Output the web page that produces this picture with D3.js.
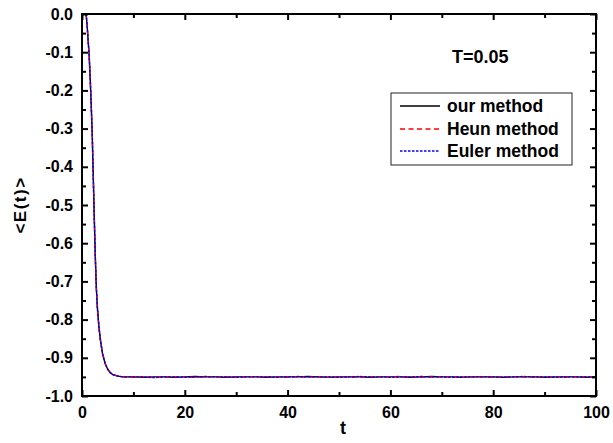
<!DOCTYPE html>
<html>
<head>
<meta charset="utf-8">
<script src="https://cdn.jsdelivr.net/npm/d3@7"></script>
<style>
  html, body { margin: 0; padding: 0; background: #fff; }
  svg { display: block; }
  text { font-family: "Liberation Sans", Arial, sans-serif; font-weight: bold; fill: #000; }
</style>
</head>
<body>
<svg id="chart" width="613" height="443"></svg>
<script>
// ---------- data ----------
const times = [0.8, 1.0, 1.2, 1.4, 1.6, 1.8, 2.0, 2.2, 2.4, 2.6, 2.8, 3.0, 3.3, 3.6, 4.0, 4.5, 5.0, 5.5, 6.0, 7.0, 8.0,
  10, 12, 14, 16, 18, 20, 22, 24, 26, 28, 30, 32, 34, 36, 38, 40, 42, 44, 46, 48, 50,
  52, 54, 56, 58, 60, 62, 64, 66, 68, 70, 72, 74, 76, 78, 80, 82, 84, 86, 88, 90, 92, 94, 96, 98, 100];
const ourMethod = [0, -0.03, -0.07, -0.11, -0.17, -0.24, -0.32, -0.43, -0.54, -0.64, -0.72, -0.77, -0.82, -0.855, -0.89, -0.915, -0.93, -0.939, -0.944, -0.948, -0.950,
  -0.950, -0.951, -0.950, -0.950, -0.951, -0.950, -0.949, -0.950, -0.950, -0.951, -0.950, -0.950, -0.950, -0.951, -0.950, -0.950, -0.950, -0.949, -0.950, -0.951, -0.950,
  -0.950, -0.950, -0.951, -0.950, -0.950, -0.950, -0.951, -0.950, -0.949, -0.950, -0.950, -0.951, -0.950, -0.950, -0.950, -0.951, -0.950, -0.950, -0.950, -0.951, -0.950, -0.950, -0.950, -0.951, -0.950];
const heunMethod = [0, -0.03, -0.07, -0.11, -0.17, -0.24, -0.32, -0.43, -0.54, -0.64, -0.72, -0.77, -0.82, -0.855, -0.89, -0.915, -0.93, -0.939, -0.944, -0.948, -0.950,
  -0.951, -0.950, -0.950, -0.951, -0.950, -0.950, -0.951, -0.950, -0.950, -0.950, -0.951, -0.950, -0.949, -0.950, -0.950, -0.951, -0.950, -0.950, -0.950, -0.951, -0.950,
  -0.950, -0.951, -0.950, -0.950, -0.950, -0.949, -0.950, -0.951, -0.950, -0.950, -0.950, -0.951, -0.950, -0.950, -0.951, -0.950, -0.950, -0.950, -0.951, -0.950, -0.950, -0.951, -0.950, -0.950, -0.950];
const eulerMethod = [0, -0.03, -0.07, -0.11, -0.17, -0.24, -0.32, -0.43, -0.54, -0.64, -0.72, -0.77, -0.82, -0.855, -0.89, -0.915, -0.93, -0.939, -0.944, -0.948, -0.950,
  -0.950, -0.950, -0.952, -0.950, -0.950, -0.951, -0.950, -0.949, -0.950, -0.950, -0.951, -0.950, -0.950, -0.950, -0.951, -0.950, -0.949, -0.950, -0.950, -0.950, -0.951,
  -0.950, -0.949, -0.950, -0.950, -0.951, -0.950, -0.950, -0.949, -0.950, -0.950, -0.951, -0.950, -0.950, -0.950, -0.950, -0.951, -0.950, -0.949, -0.950, -0.950, -0.951, -0.950, -0.950, -0.950, -0.950];
const seriesNames = ["our method", "Heun method", "Euler method"];
const xTicks = [0, 20, 40, 60, 80, 100];
const yTicks = [0.0, -0.1, -0.2, -0.3, -0.4, -0.5, -0.6, -0.7, -0.8, -0.9, -1.0];
const annotation = "T=0.05";

// ---------- layout ----------
const svg = d3.select("#chart");
const L = 82, R = 596, T = 14, B = 396;
const x = d3.scaleLinear().domain([0, 100]).range([L, R]);
const y = d3.scaleLinear().domain([-1.0, 0.0]).range([B, T]);

const styles = [
  { color: "#000000", dash: null },
  { color: "#ff0000", dash: "5,3.5" },
  { color: "#0000ff", dash: "2.5,1.5" }
];
const values = [ourMethod, heunMethod, eulerMethod];

const line = d3.line().x(d => x(d[0])).y(d => y(d[1]));
values.forEach((vals, i) => {
  svg.append("path")
    .datum(times.map((t, k) => [t, vals[k]]))
    .attr("d", line)
    .attr("fill", "none")
    .attr("stroke", styles[i].color)
    .attr("stroke-width", 1.4)
    .attr("stroke-dasharray", styles[i].dash);
});

// ---------- axes ----------
const xMinor = d3.range(10, 100, 20);
const yMinor = d3.range(-0.95, 0, 0.1);
function tickGroup(axisGen, transform) {
  const g = svg.append("g").attr("transform", transform).call(axisGen);
  g.select(".domain").remove();
  g.selectAll("line").attr("stroke", "#000").attr("stroke-width", 2);
  return g;
}
// bottom
const gb = tickGroup(d3.axisBottom(x).tickValues(xTicks).tickSize(-6).tickFormat(d3.format("d")), `translate(0,${B})`);
gb.selectAll("text").attr("y", 11).attr("font-size", 16).style("font-family", "Liberation Sans, Arial, sans-serif").style("font-weight", "bold");
tickGroup(d3.axisBottom(x).tickValues(xMinor).tickSize(-4).tickFormat(""), `translate(0,${B})`);
// top
tickGroup(d3.axisTop(x).tickValues(xTicks).tickSize(-6).tickFormat(""), `translate(0,${T})`);
tickGroup(d3.axisTop(x).tickValues(xMinor).tickSize(-4).tickFormat(""), `translate(0,${T})`);
// left
const gl = tickGroup(d3.axisLeft(y).tickValues(yTicks).tickSize(-6).tickFormat(d3.format(".1f")), `translate(${L},0)`);
gl.selectAll("text").attr("x", -9).attr("font-size", 16).style("font-family", "Liberation Sans, Arial, sans-serif").style("font-weight", "bold")
  .text(d => d3.format(".1f")(d).replace("−", "-"));
tickGroup(d3.axisLeft(y).tickValues(yMinor).tickSize(-4).tickFormat(""), `translate(${L},0)`);
// right
tickGroup(d3.axisRight(y).tickValues(yTicks).tickSize(-6).tickFormat(""), `translate(${R},0)`);
tickGroup(d3.axisRight(y).tickValues(yMinor).tickSize(-4).tickFormat(""), `translate(${R},0)`);

// frame
svg.append("rect").attr("x", L).attr("y", T).attr("width", R - L).attr("height", B - T)
  .attr("fill", "none").attr("stroke", "#000").attr("stroke-width", 2);

// axis titles
svg.append("text").attr("x", (L + R) / 2 + 4).attr("y", 434).attr("text-anchor", "middle")
  .attr("font-size", 18).text("t");
svg.append("text").attr("transform", `translate(26,${(T + B) / 2}) rotate(-90)`)
  .attr("text-anchor", "middle").attr("font-size", 17).attr("letter-spacing", 1.5).text("<E(t)>");

// annotation
svg.append("text").attr("x", 452).attr("y", 63).attr("font-size", 18).text(annotation);

// legend
const lg = svg.append("g");
lg.append("rect").attr("x", 391).attr("y", 93).attr("width", 181).attr("height", 72)
  .attr("fill", "#fff").attr("stroke", "#222").attr("stroke-width", 1);
const rowY = [106, 129, 151];
seriesNames.forEach((name, i) => {
  lg.append("line").attr("x1", 400).attr("x2", 440).attr("y1", rowY[i]).attr("y2", rowY[i])
    .attr("stroke", styles[i].color).attr("stroke-width", 1.3).attr("stroke-dasharray", styles[i].dash);
  lg.append("text").attr("x", 447).attr("y", rowY[i] + 6).attr("font-size", 17.5).text(name);
});
</script>
</body>
</html>
